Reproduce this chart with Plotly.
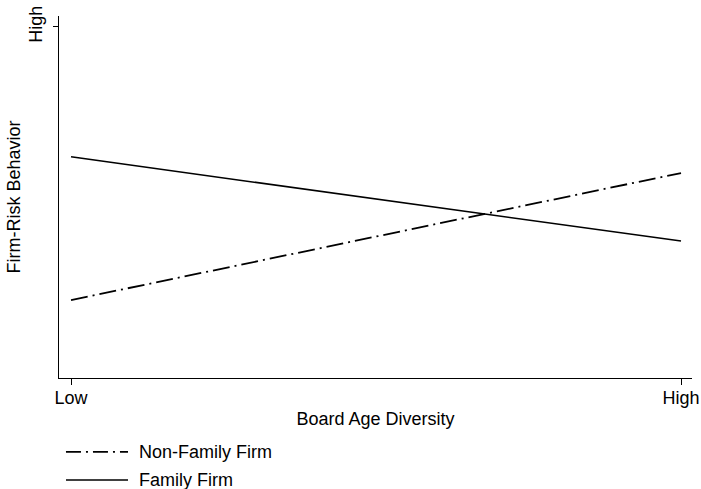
import plotly.graph_objects as go

x_labels = ["Low", "High"]
x_vals = [0, 1]
family_firm = [0.63, 0.39]
non_family_firm = [0.222, 0.584]
y_tick_vals = [1]
y_tick_text = ["High"]

FONT = "Liberation Sans, Arial, sans-serif"
FS = 18

fig = go.Figure()
fig.add_trace(go.Scatter(x=x_vals, y=non_family_firm, mode="lines", name="Non-Family Firm",
                         line=dict(color="black", width=1.8, dash="17px,5px,2px,5px"),
                         showlegend=False))
fig.add_trace(go.Scatter(x=x_vals, y=family_firm, mode="lines", name="Family Firm",
                         line=dict(color="black", width=1.5),
                         showlegend=False))

# manual legend
legend_items = [("Non-Family Firm", "15px,5px,2px,5px", 1.8, -0.204),
                ("Family Firm", "solid", 1.5, -0.282)]
for name, dash, w, yy in legend_items:
    fig.add_shape(type="line", xref="paper", yref="paper", x0=0.011, x1=0.109, y0=yy, y1=yy,
                  line=dict(color="black", width=w, dash=dash))
    fig.add_annotation(xref="paper", yref="paper", x=0.124, y=yy, text=name, showarrow=False,
                       xanchor="left", yanchor="middle", font=dict(family=FONT, size=FS, color="black"))

fig.update_layout(
    width=701, height=489,
    margin=dict(l=59, r=9, t=16, b=111),
    plot_bgcolor="white", paper_bgcolor="white",
    font=dict(family=FONT, size=FS, color="black"),
    showlegend=False,
)
fig.update_xaxes(range=[-0.0197, 1.018], tickvals=x_vals, ticktext=x_labels,
                 showline=True, linecolor="black", linewidth=1.2, mirror=False,
                 ticks="outside", ticklen=6, tickcolor="black", tickwidth=1.2,
                 ticklabelstandoff=-3,
                 showgrid=False, zeroline=False, automargin=False,
                 title=dict(text="Board Age Diversity", standoff=5, font=dict(size=FS)),
                 tickfont=dict(size=FS))
fig.update_yaxes(range=[0, 1.0313], tickvals=y_tick_vals, ticktext=y_tick_text,
                 showline=True, linecolor="black", linewidth=1.2,
                 ticks="outside", ticklen=5, tickcolor="black", tickwidth=1.2,
                 ticklabelstandoff=4,
                 tickangle=-90, showgrid=False, zeroline=False, automargin=False,
                 title=dict(text="Firm-Risk Behavior", standoff=0, font=dict(size=FS)),
                 tickfont=dict(size=FS))

# remove the default page margin so the figure sits at the window's top-left corner
fig.write_html("out.html", config={"displayModeBar": False},
               post_script="document.body.style.margin='0';")
